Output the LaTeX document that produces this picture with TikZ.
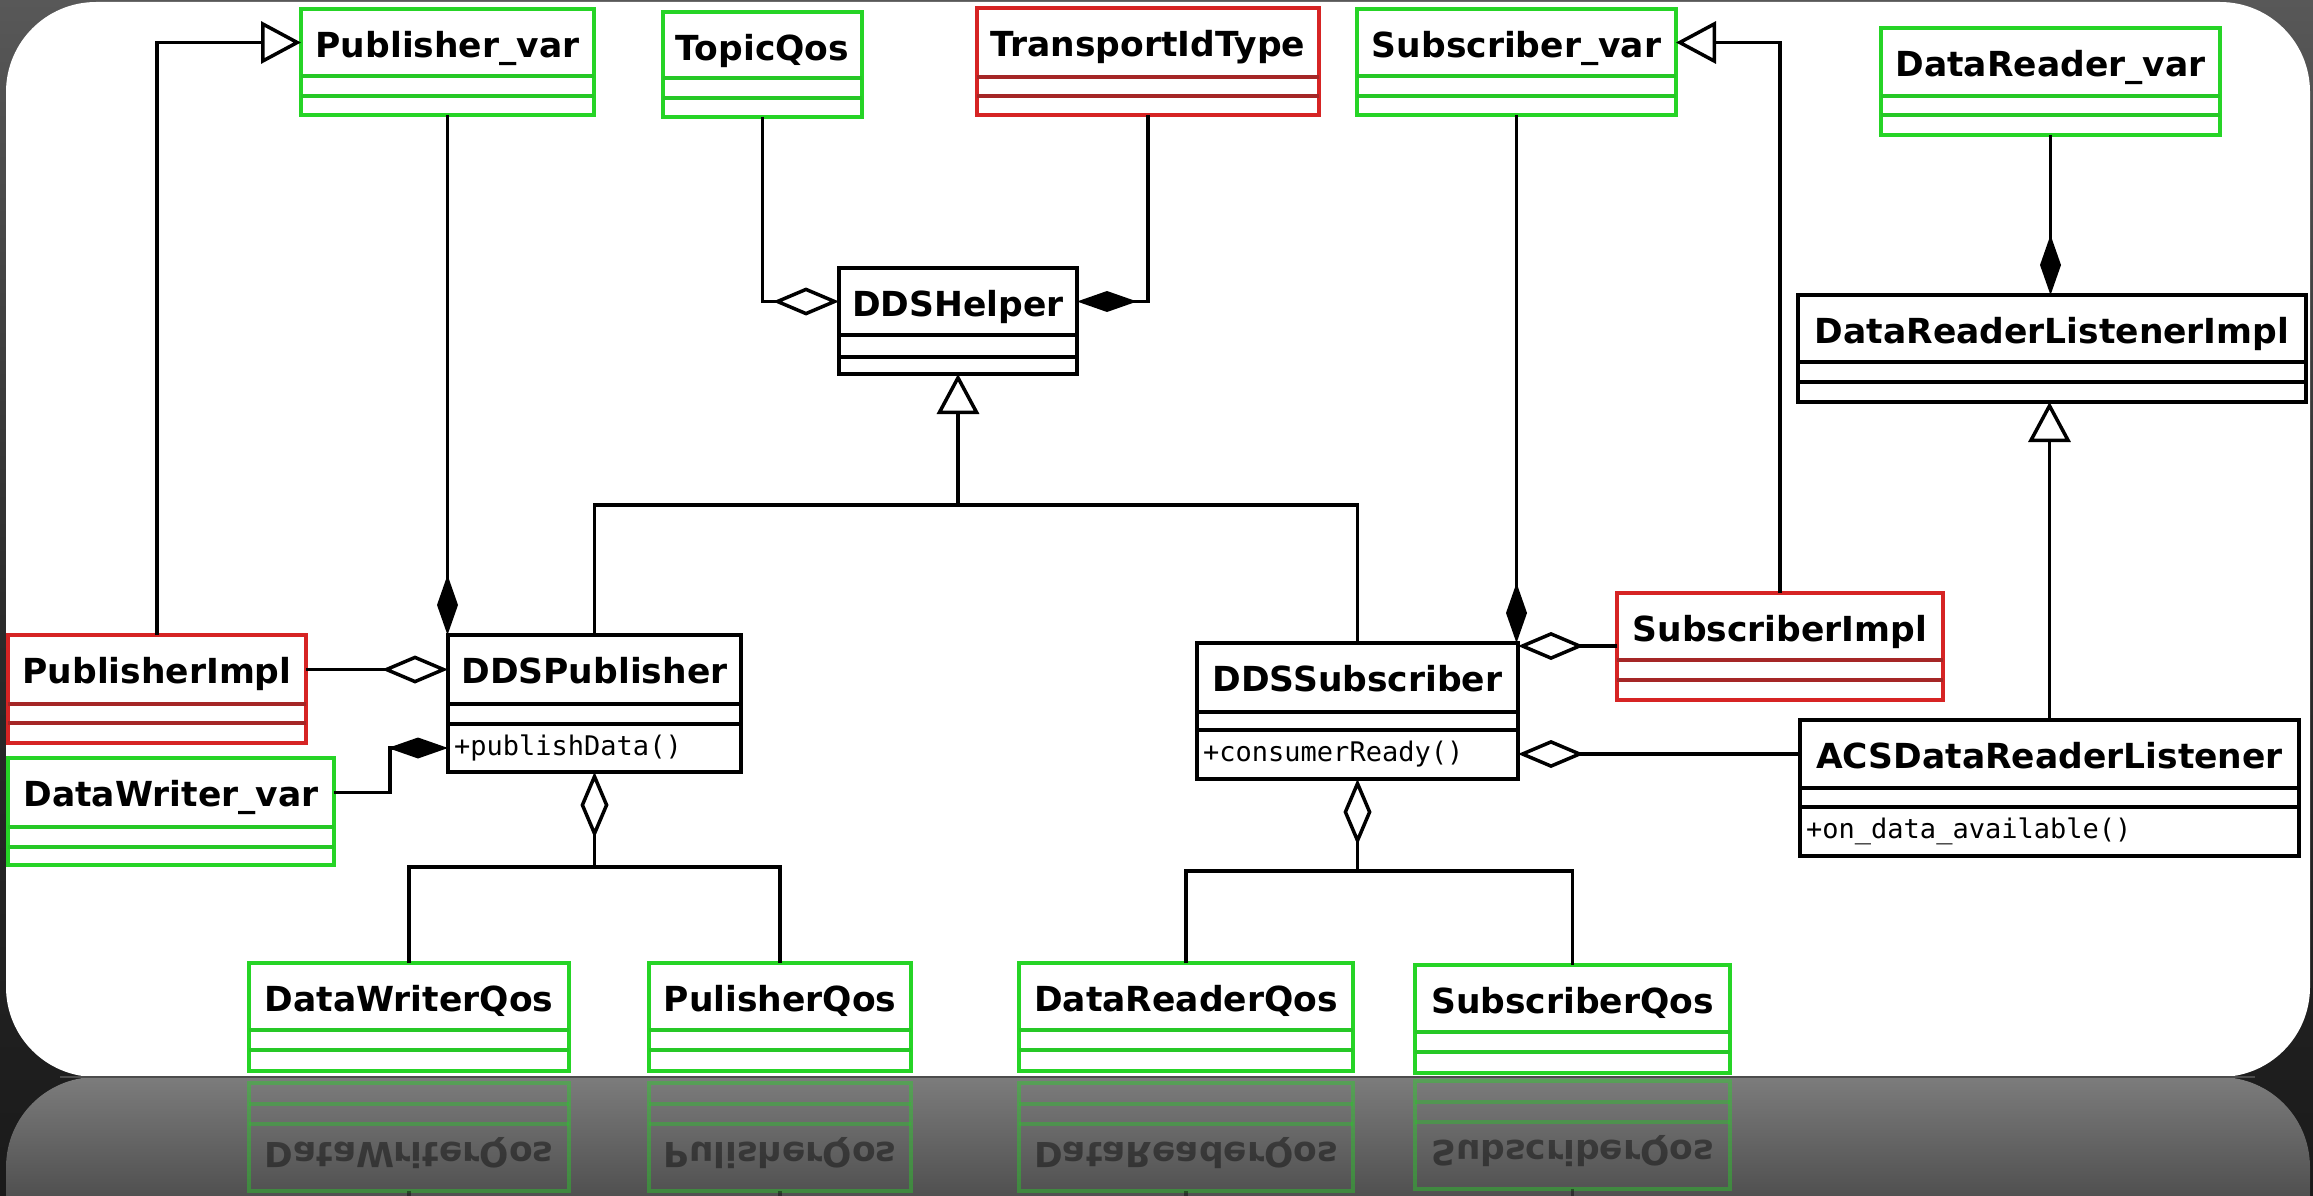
\documentclass[tikz,border=0pt]{standalone}
\usepackage{fontspec}
\setmainfont{DejaVu Sans}
\setmonofont{DejaVu Sans Mono}
\usetikzlibrary{arrows.meta,calc}

\definecolor{umlgreen}{RGB}{38,212,38}
\definecolor{umlgreendiv}{RGB}{38,200,38}
\definecolor{umlred}{RGB}{214,36,36}
\definecolor{umlreddiv}{RGB}{165,38,38}
\definecolor{umlblack}{RGB}{0,0,0}
\definecolor{umlblackdiv}{RGB}{0,0,0}
\definecolor{bgtop}{RGB}{88,88,88}
\definecolor{bgmid}{RGB}{44,44,44}
\definecolor{bgbot}{RGB}{26,26,26}
\definecolor{refltop}{RGB}{124,124,124}
\definecolor{reflbot}{RGB}{80,80,80}

\tikzset{
  boxfill/.style={fill=white},
  classframe/.style={draw=#1, line width=3.5pt, boxfill, inner sep=0pt, outer sep=0pt},
  classname/.style={font=\bfseries\fontsize{34.5}{40}\selectfont, inner sep=0pt, anchor=base, text=black},
  classop/.style={font=\ttfamily\fontsize{27}{32}\selectfont, inner sep=0pt, anchor=west, text=black},
  conn/.style={line width=3.5pt},
  gen/.style={conn, -{Triangle[open, length=40pt, width=42pt, fill=white]}},
  agg/.style={conn, -{Diamond[open, length=66pt, width=28pt, fill=white]}},
  comp/.style={conn, -{Diamond[length=60pt, width=21pt]}},
}

% \umlbox{name}{colour}{x1}{y1}{x2}{y2}{first divider}{second divider}{title}
\newcommand\umlbox[9]{%
  \node[classframe=#2, anchor=north west,
        minimum width={(#5-#3)*1pt}, minimum height={(#6-#4)*1pt}] (#1) at (#3,#4) {};
  \draw[#2div, line width=3.5pt] (#3,#7) -- (#5,#7) (#3,#8) -- (#5,#8);
  \coordinate (#1-nw) at (#3,{(#4+#7)/2});
  \coordinate (#1-ne) at (#5,{(#4+#7)/2});
  \coordinate (#1-mw) at (#3,{(#8+#6)/2});
  \coordinate (#1-me) at (#5,{(#8+#6)/2});
  \node[classname] (#1-name) at ({(#3+#5)/2},{#4+48.5}) {#9};
}

% the four QoS classes along the bottom edge
\newcommand\qosboxes[1]{%
  \umlbox{#1dwqos}{umlgreen}{249}{963}{569}{1071}{1030}{1050}{DataWriterQos}
  \umlbox{#1pubqos}{umlgreen}{649}{963}{911}{1071}{1030}{1050}{PulisherQos}
  \umlbox{#1drqos}{umlgreen}{1019}{963}{1353}{1071}{1030}{1050}{DataReaderQos}
  \umlbox{#1subqos}{umlgreen}{1415}{965}{1730}{1073}{1032}{1052}{SubscriberQos}
}

\begin{document}
\begin{tikzpicture}[x=1pt, y=-1pt]
\useasboundingbox (0,0) rectangle (2313,1196);

% slide background and white card
\fill[top color=bgtop, bottom color=bgbot, middle color=bgmid] (0,0) rectangle (2313,1196);
\fill[white, rounded corners=90pt] (6,2) rectangle (2310,1077);

% mirrored floor below the card
\begin{scope}
  \clip[rounded corners=90pt] (6,1077) rectangle (2310,1500);
  \fill[top color=refltop, bottom color=reflbot] (0,1077) rectangle (2313,1196);
  \begin{scope}[yshift=-2154pt, yscale=-1, transform shape, opacity=0.42, boxfill/.style={}]
    \qosboxes{r-}
    \draw[conn] (r-dwqos.north) -- ++(0,-40);
    \draw[conn] (r-pubqos.north) -- ++(0,-40);
    \draw[conn] (r-drqos.north) -- ++(0,-40);
    \draw[conn] (r-subqos.north) -- ++(0,-40);
  \end{scope}
\end{scope}
\draw[line width=1.5pt, black!70] (60,1077) -- (2255,1077);

% classes
\umlbox{pubvar}{umlgreen}{301}{9}{594}{115}{76}{96}{Publisher\_var}
\umlbox{topicqos}{umlgreen}{663}{12}{862}{117}{78}{98}{TopicQos}
\umlbox{transport}{umlred}{977}{8}{1319}{115}{77}{96}{TransportIdType}
\umlbox{subvar}{umlgreen}{1357}{9}{1676}{115}{76}{96}{Subscriber\_var}
\umlbox{drvar}{umlgreen}{1881}{28}{2220}{135}{96}{115}{DataReader\_var}
\umlbox{helper}{umlblack}{839}{268}{1077}{374}{335}{357}{DDSHelper}
\umlbox{drlimpl}{umlblack}{1798}{295}{2306}{402}{362}{382}{DataReaderListenerImpl}
\umlbox{pubimpl}{umlred}{8}{635}{306}{743}{704}{723}{PublisherImpl}
\umlbox{dwvar}{umlgreen}{8}{758}{334}{865}{827}{847}{DataWriter\_var}
\umlbox{ddspub}{umlblack}{448}{635}{741}{772}{704}{724}{DDSPublisher}
\umlbox{subimpl}{umlred}{1617}{593}{1943}{700}{660}{680}{SubscriberImpl}
\umlbox{ddssub}{umlblack}{1197}{643}{1518}{779}{712}{730}{DDSSubscriber}
\umlbox{acs}{umlblack}{1800}{720}{2299}{856}{788}{807}{ACSDataReaderListener}
\qosboxes{}

% operations
\node[classop] (ddspub-op) at ($(ddspub-mw)+(6,0)$) {+publishData()};
\node[classop] (ddssub-op) at ($(ddssub-mw)+(6,0)$) {+consumerReady()};
\node[classop] (acs-op) at ($(acs-mw)+(6,0)$) {+on\_data\_available()};

% publisher side
\draw[gen] (pubimpl.north) |- (pubvar-nw);
\draw[comp] (pubvar.south) -- (pubvar.south |- ddspub.north);
\draw[agg] (pubimpl-ne) -- (pubimpl-ne -| ddspub.west);
\draw[comp] (dwvar-ne) -- ++(56,0) |- (ddspub-mw);
\coordinate (pubbus) at ($(ddspub.south)+(0,95)$);
\draw[agg] (pubbus) -- (ddspub.south);
\draw[conn] (dwqos.north) |- (pubbus) -| (pubqos.north);

% helper
\draw[agg] (topicqos.south) |- (helper-nw);
\draw[comp] (transport.south) |- (helper-ne);
\coordinate (helperbus) at ($(helper.south)+(0,131)$);
\draw[gen] (helperbus) -- (helper.south);
\draw[conn] (ddspub.north) |- (helperbus) -| (ddssub.north);

% subscriber side
\draw[comp] (subvar.south) -- (subvar.south |- ddssub.north);
\draw[gen] (subimpl.north) |- (subvar-ne);
\coordinate (subimpl-link) at ($(subimpl.north west)+(0,53)$);
\draw[agg] (subimpl-link) -- (subimpl-link -| ddssub.east);
\draw[agg] (acs-nw) -- (acs-nw -| ddssub.east);
\coordinate (subbus) at ($(ddssub.south)+(0,92)$);
\draw[agg] (subbus) -- (ddssub.south);
\draw[conn] (drqos.north) |- (subbus) -| (subqos.north);

% data reader listener
\draw[comp] (drvar.south) -- (drvar.south |- drlimpl.north);
\draw[gen] (acs.north) -- (acs.north |- drlimpl.south);
\end{tikzpicture}
\end{document}
